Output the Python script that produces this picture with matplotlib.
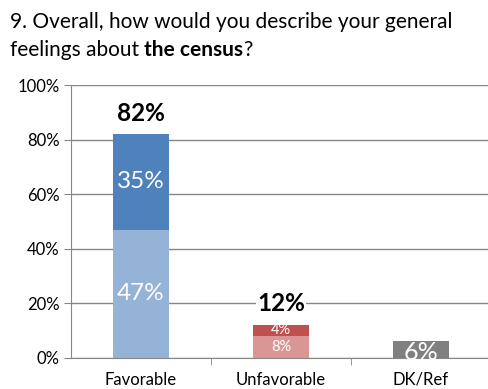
import numpy as np
import matplotlib.pyplot as plt
from matplotlib.ticker import FixedLocator, PercentFormatter

plt.rcParams['font.family'] = ['Lato', 'DejaVu Sans']

categories = ['Favorable', 'Unfavorable', 'DK/Ref']
base = [47, 8, 6]      # "somewhat" / DK share
top = [35, 4, 0]       # "very" share
totals = [82, 12, None]

base_colors = ['#95b3d7', '#d99694', '#808080']
top_colors = ['#4f81bd', '#c0504d', '#808080']

fig = plt.figure(figsize=(4.88, 3.89), dpi=100)
ax = fig.add_axes([71 / 488, (389 - 357.7) / 389, 417 / 488, 272.7 / 389])

x = np.arange(len(categories))
w = 0.4
ax.bar(x, base, w, color=base_colors, zorder=2)
ax.bar(x, top, w, bottom=base, color=top_colors, zorder=2)

# segment labels
big = dict(color='white', ha='center', va='center', fontsize=17.5, zorder=3)
small = dict(color='white', ha='center', va='center', fontsize=10.5, zorder=3)
ax.text(0, base[0] / 2, '%d%%' % base[0], **big)
ax.text(0, base[0] + top[0] / 2, '%d%%' % top[0], **big)
ax.text(1, base[1] / 2, '%d%%' % base[1], **small)
ax.text(1, base[1] + top[1] / 2, '%d%%' % top[1], **small)
t6 = ax.text(2, 2.0, '%d%%' % base[2], color='white', ha='center',
             va='center', fontsize=18, zorder=3)
t6.set_clip_path(ax.patches[2])

# totals above bars
ax.text(0, 89.7, '%d%%' % totals[0], ha='center', va='center', fontsize=17.5,
        fontweight='bold', zorder=3)
ax.text(1, 20, '%d%%' % totals[1], ha='center', va='center', fontsize=17.5,
        fontweight='bold', zorder=3,
        bbox=dict(facecolor='white', edgecolor='none', pad=1))

ax.set_ylim(0, 100)
ax.set_xlim(-0.5, 2.48)
ax.yaxis.set_major_locator(FixedLocator([0, 20, 40, 60, 80, 100]))
ax.yaxis.set_major_formatter(PercentFormatter(decimals=0))
ax.xaxis.set_major_locator(FixedLocator(x))
ax.xaxis.set_minor_locator(FixedLocator([0.5, 1.5]))
ax.set_xticklabels(categories, fontsize=12)
ax.tick_params(axis='x', which='major', length=0, pad=10)
ax.tick_params(axis='x', which='minor', length=5, color='#868686')
ax.tick_params(axis='y', length=5, color='#868686', labelsize=12, pad=3)
ax.grid(axis='y', color='#868686', linewidth=1, zorder=0)
ax.set_axisbelow(True)
for s in ['top', 'right']:
    ax.spines[s].set_visible(False)
for s in ['left', 'bottom']:
    ax.spines[s].set_color('#868686')

# two-line heading, with the bold part drawn as its own text
fs = 15
fig.text(10 / 488, 1 - 22 / 389, '9. Overall, how would you describe your general',
         fontsize=fs, va='center')
t1 = fig.text(10 / 488, 1 - 50 / 389, 'feelings about ', fontsize=fs, va='center')
t2 = ax.annotate('the census', xy=(1, 0), xycoords=t1, va='bottom',
                 fontsize=fs, fontweight='bold', annotation_clip=False)
ax.annotate('?', xy=(1, 0), xycoords=t2, va='bottom', fontsize=fs,
            annotation_clip=False)

fig.savefig('out.png', dpi=100)
